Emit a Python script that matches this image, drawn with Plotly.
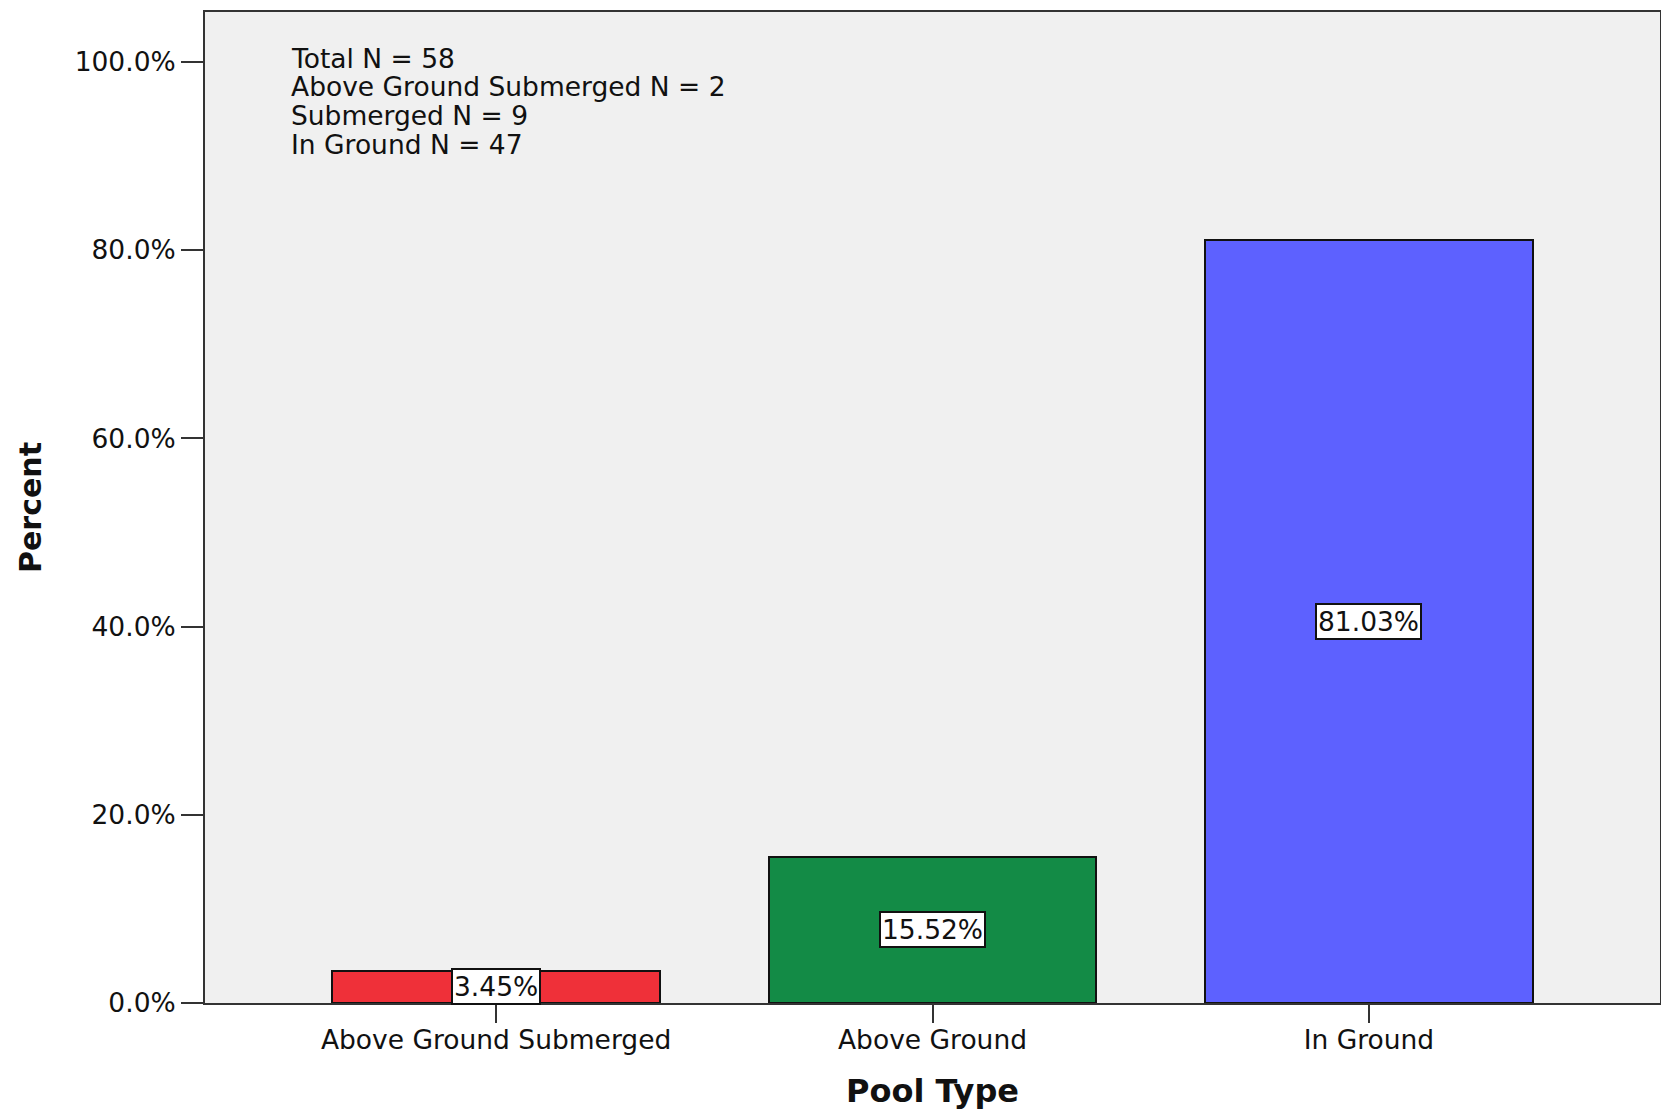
import plotly.graph_objects as go

# data
pool_types = ['Above Ground Submerged', 'Above Ground', 'In Ground']
percents = [3.45, 15.52, 81.03]
bar_colors = ['#ef3039', '#138b46', '#5d61ff']
y_ticks = [0, 20, 40, 60, 80, 100]
y_tick_labels = ['0.0%', '20.0%', '40.0%', '60.0%', '80.0%', '100.0%']
counts_text = ['Total N = 58', 'Above Ground Submerged N = 2',
               'Submerged N = 9', 'In Ground N = 47']

FONT = 'DejaVu Sans'
TXT = 26.5

fig = go.Figure(go.Bar(
    x=pool_types,
    y=percents,
    width=0.75,
    marker=dict(color=bar_colors, line=dict(color='#111111', width=2)),
    hoverinfo='skip',
))

# value labels sit in the middle of each bar, in white boxes
for cat, val in zip(pool_types, percents):
    fig.add_annotation(
        x=cat, y=val / 2, text=f'{val:.2f}%', showarrow=False,
        font=dict(family=FONT, size=TXT, color='#111111'),
        bgcolor='white', bordercolor='#111111', borderwidth=2, borderpad=1,
    )

# sample sizes in the upper left, one line each (tighter spacing than <br>)
for i, line in enumerate(counts_text):
    fig.add_annotation(
        xref='paper', yref='paper', x=0.058, y=0.9535 - i * 0.029,
        xanchor='left', yanchor='middle', align='left', showarrow=False,
        text=line, font=dict(family=FONT, size=TXT, color='#111111'),
    )

# page body has an 8px margin, so the figure is trimmed by that much
fig.update_layout(
    width=1661, height=1104,
    paper_bgcolor='white', plot_bgcolor='#f0f0f0',
    margin=dict(l=197, r=9, t=2, b=109),
    showlegend=False,
    font=dict(family=FONT, size=TXT, color='#111111'),
    bargap=0,
    xaxis=dict(
        range=[-0.667, 2.667],
        showline=True, linecolor='#333333', linewidth=2, mirror=True,
        ticks='outside', ticklen=18, tickwidth=2, tickcolor='#333333',
        ticklabelstandoff=-6,
        showgrid=False,
        title=dict(text='<b>Pool Type</b>', font=dict(family=FONT, size=32), standoff=26),
    ),
    yaxis=dict(
        range=[0, 105.3],
        tickvals=y_ticks, ticktext=y_tick_labels,
        showline=True, linecolor='#333333', linewidth=2, mirror=True,
        ticks='outside', ticklen=22, tickwidth=2, tickcolor='#333333',
        showgrid=False, zeroline=False,
        title=dict(text='<b>Percent</b>', font=dict(family=FONT, size=30), standoff=24),
    ),
)

fig.write_html('out.html')
